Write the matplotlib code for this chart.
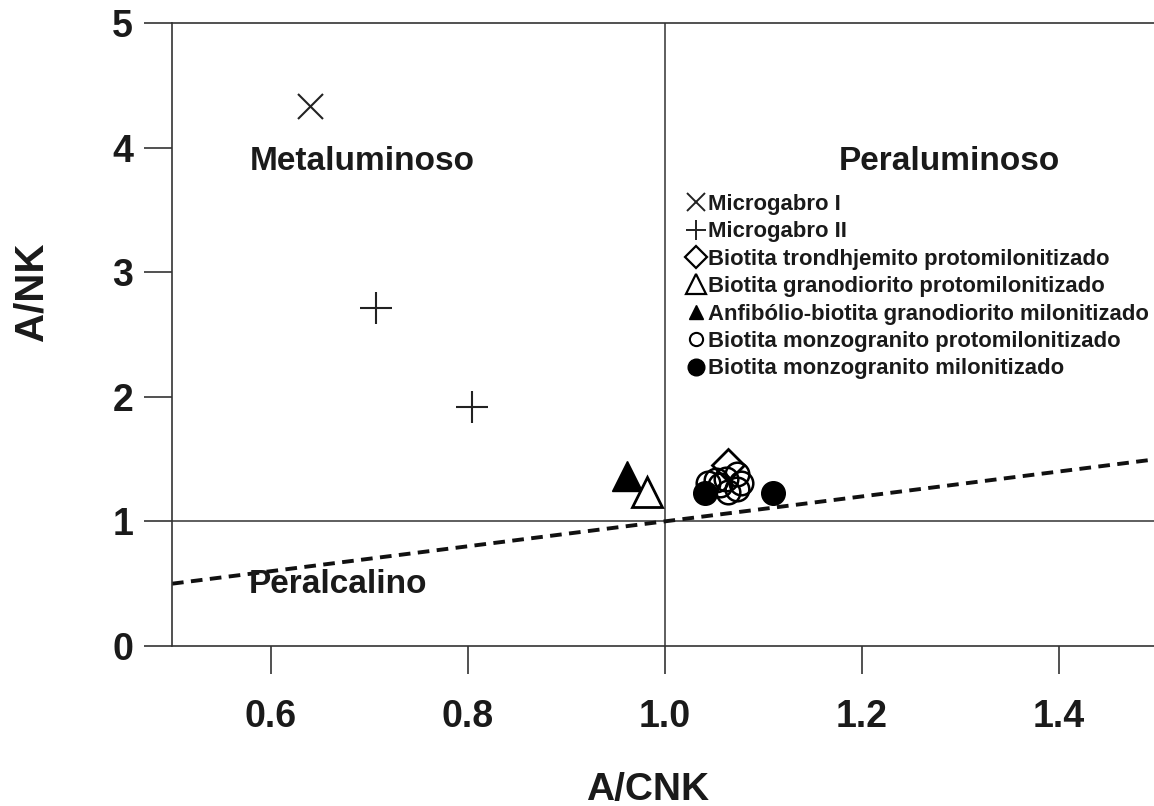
import matplotlib
matplotlib.use("Agg")
import matplotlib.pyplot as plt
from matplotlib.lines import Line2D

plt.rcParams['font.family'] = ['Liberation Sans', 'DejaVu Sans']

# ---- data ----
micro1_x = [0.640]
micro1_y = [4.33]
micro2_x = [0.707, 0.805]
micro2_y = [2.71, 1.92]
trond_x = [1.064]
trond_y = [1.45]
grano_x = [0.982]
grano_y = [1.238]
anfib_x = [0.962]
anfib_y = [1.366]
monzo_proto_x = [1.044, 1.052, 1.062, 1.074, 1.078, 1.064, 1.074, 1.056]
monzo_proto_y = [1.306, 1.33, 1.338, 1.378, 1.306, 1.234, 1.258, 1.29]
monzo_milo_x = [1.041, 1.110]
monzo_milo_y = [1.226, 1.226]

boundary_x = [0.5, 1.5]
boundary_y = [0.5, 1.5]

xticks = [0.6, 0.8, 1.0, 1.2, 1.4]
xtick_labels = ["0.6", "0.8", "1.0", "1.2", "1.4"]
yticks = [0, 1, 2, 3, 4, 5]
ytick_labels = ["0", "1", "2", "3", "4", "5"]

labels = ["Microgabro I", "Microgabro II",
          "Biotita trondhjemito protomilonitizado",
          "Biotita granodiorito protomilonitizado",
          "Anfibólio-biotita granodiorito milonitizado",
          "Biotita monzogranito protomilonitizado",
          "Biotita monzogranito milonitizado"]

W, H = 1154, 806
fig = plt.figure(figsize=(W / 100, H / 100), dpi=100)
ax = fig.add_axes([172 / W, 1 - 646 / H, (1157 - 172) / W, (646 - 23) / H])
ax.set_xlim(0.5, 1.5)
ax.set_ylim(0, 5)

line_col = '#333333'
txt_col = '#1a1a1a'
for s in ['left', 'top', 'bottom']:
    ax.spines[s].set_linewidth(1.2)
    ax.spines[s].set_color(line_col)
ax.spines['right'].set_visible(False)

# reference lines
ax.axvline(1.0, color=line_col, lw=1.1, zorder=1)
ax.axhline(1.0, color=line_col, lw=1.1, zorder=1)
ax.plot(boundary_x, boundary_y, color='#111111', lw=2.8, dashes=(3.0, 1.9), zorder=1)

# data points
ax.plot(micro1_x, micro1_y, 'x', color='#222222', ms=18, mew=1.5, zorder=3)
ax.plot(micro2_x, micro2_y, '+', color='#222222', ms=23, mew=1.5, zorder=3)
ax.plot(anfib_x, anfib_y, '^', color='black', ms=21, mec='black', zorder=3)
ax.plot(grano_x, grano_y, '^', mfc='white', mec='black', ms=21, mew=2, zorder=3)
ax.plot(monzo_milo_x, monzo_milo_y, 'o', color='black', ms=17, zorder=3)
ax.plot(trond_x, trond_y, 'D', mfc='white', mec='black', ms=16, mew=2, zorder=3)
ax.plot(monzo_proto_x, monzo_proto_y, 'o', mfc='none', mec='black', ms=17, mew=1.8, zorder=4)

# region labels
lab_kw = dict(fontsize=24, fontweight='bold', color=txt_col, ha='center', va='center')
ax.text(0.693, 3.89, "Metaluminoso", **lab_kw)
ax.text(1.289, 3.89, "Peraluminoso", **lab_kw)
ax.text(0.669, 0.49, "Peralcalino", **lab_kw)

# ticks
ax.set_xticks(xticks)
ax.set_xticklabels(xtick_labels)
ax.set_yticks(yticks)
ax.set_yticklabels(ytick_labels)
ax.tick_params(axis='x', direction='out', length=20, width=1.2, color=line_col,
               pad=18, labelsize=27)
ax.tick_params(axis='y', direction='out', length=20, width=1.2, color=line_col,
               pad=8, labelsize=27)
for t in ax.get_xticklabels() + ax.get_yticklabels():
    t.set_fontweight('bold')
    t.set_color(txt_col)

ax.set_xlabel("A/CNK", fontsize=28, fontweight='bold', color=txt_col)
ax.xaxis.label.set_va('baseline')
ax.xaxis.set_label_coords(648 / W, 1 - 800 / H, transform=fig.transFigure)
ax.set_ylabel("A/NK", fontsize=29, fontweight='bold', color=txt_col)
ax.yaxis.label.set_va('center')
ax.yaxis.set_label_coords(31 / W, 1 - 292 / H, transform=fig.transFigure)

# legend
handles = [
    Line2D([], [], ls='none', marker='x', color='#222222', ms=13, mew=1.4),
    Line2D([], [], ls='none', marker='+', color='#222222', ms=14.5, mew=1.4),
    Line2D([], [], ls='none', marker='D', mfc='white', mec='black', ms=11, mew=1.6),
    Line2D([], [], ls='none', marker='^', mfc='white', mec='black', ms=15, mew=1.6),
    Line2D([], [], ls='none', marker='^', color='black', ms=10.5),
    Line2D([], [], ls='none', marker='o', mfc='white', mec='black', ms=9.5, mew=1.5),
    Line2D([], [], ls='none', marker='o', color='black', ms=12),
]
leg = ax.legend(handles, labels, loc='upper left',
                bbox_to_anchor=(685 / W, 1 - 194 / H), bbox_transform=fig.transFigure,
                frameon=False, handlelength=1.0, handletextpad=0.05,
                labelspacing=0.29, borderpad=0, borderaxespad=0,
                prop={'size': 15.9, 'weight': 'bold'})
for t in leg.get_texts():
    t.set_color(txt_col)

fig.savefig("out.png", dpi=100)
